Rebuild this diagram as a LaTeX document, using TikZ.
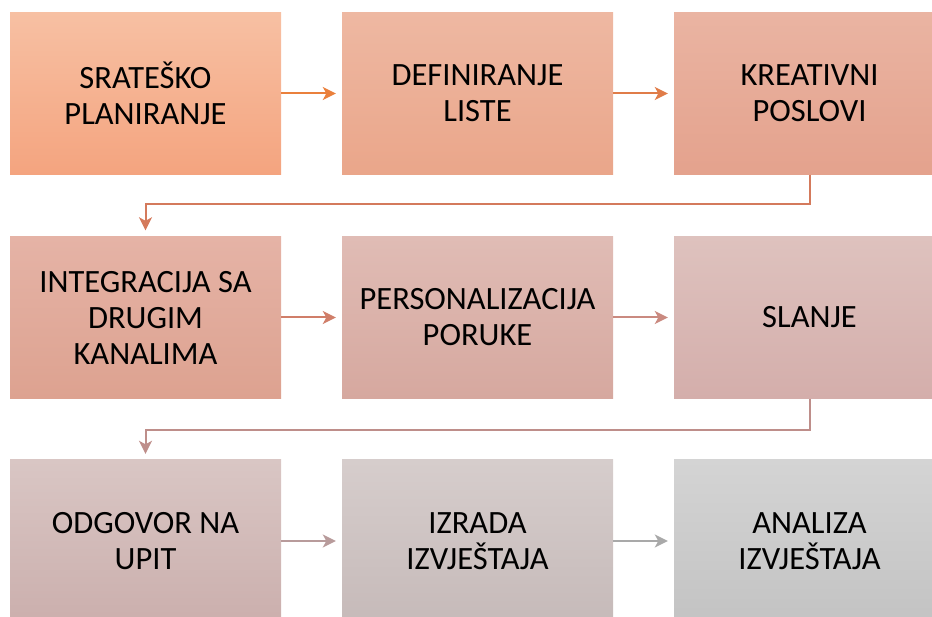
\documentclass[tikz,border=0pt]{standalone}
\usepackage{fontspec}
\setmainfont{Carlito}
\usetikzlibrary{arrows.meta}
\definecolor{aT}{HTML}{F7C0A3}\definecolor{aB}{HTML}{F4A47F}
\definecolor{bT}{HTML}{EEB8A2}\definecolor{bB}{HTML}{EAA68A}
\definecolor{cT}{HTML}{EAB4A2}\definecolor{cB}{HTML}{E4A28D}
\definecolor{dT}{HTML}{E5B3A6}\definecolor{dB}{HTML}{DDA290}
\definecolor{eT}{HTML}{E0BCB5}\definecolor{eB}{HTML}{D6A89F}
\definecolor{fT}{HTML}{DEC2BE}\definecolor{fB}{HTML}{D4AEAB}
\definecolor{gT}{HTML}{D9C6C4}\definecolor{gB}{HTML}{CBAFAD}
\definecolor{hT}{HTML}{D6CDCC}\definecolor{hB}{HTML}{C6BAB9}
\definecolor{iT}{HTML}{D4D4D4}\definecolor{iB}{HTML}{C3C3C3}
\definecolor{arA}{HTML}{EA803C}\definecolor{arB}{HTML}{E07C48}
\definecolor{arC}{HTML}{D47A5C}\definecolor{arD}{HTML}{D07E69}
\definecolor{arE}{HTML}{CA8A80}\definecolor{arF}{HTML}{BE8E8A}
\definecolor{arG}{HTML}{B89B9B}\definecolor{arH}{HTML}{A9A9A9}
\newcommand{\boxfont}{\fontsize{32.5pt}{36pt}\selectfont}
\tikzset{
  x=1pt,y=-1pt,
  stepbox/.style={minimum width=271pt,minimum height=162pt,inner sep=0pt,
    align=center,font=\boxfont},
  conn/.style={line width=2pt,-{Stealth[length=13pt,width=13pt,inset=3.5pt]},shorten >=6pt},
}
\begin{document}
\begin{tikzpicture}
\useasboundingbox (0,0) rectangle (932,617);
\node[stepbox,top color=aT,bottom color=aB] (n1) at (145.5,93.5) {SRATEŠKO\\PLANIRANJE};
\node[stepbox,top color=bT,bottom color=bB] (n2) at (477.5,93.5) {DEFINIRANJE\\LISTE};
\node[stepbox,top color=cT,bottom color=cB] (n3) at (809.5,93.5) {KREATIVNI\\POSLOVI};
\node[stepbox,top color=dT,bottom color=dB] (n4) at (145.5,317.5) {INTEGRACIJA SA\\DRUGIM\\KANALIMA};
\node[stepbox,top color=eT,bottom color=eB] (n5) at (477.5,317.5) {PERSONALIZACIJA\\PORUKE};
\node[stepbox,top color=fT,bottom color=fB] (n6) at (809.5,317.5) {SLANJE};
\node[stepbox,top color=gT,bottom color=gB] (n7) at (145.5,541) {ODGOVOR NA\\UPIT};
\node[stepbox,top color=hT,bottom color=hB] (n8) at (477.5,541) {IZRADA\\IZVJEŠTAJA};
\node[stepbox,top color=iT,bottom color=iB] (n9) at (809.5,541) {ANALIZA\\IZVJEŠTAJA};
\draw[conn,arA] (n1) -- (n2);
\draw[conn,arB] (n2) -- (n3);
\draw[conn,arC] (n3.south) -- ++(0,29) -| (n4.north);
\draw[conn,arD] (n4) -- (n5);
\draw[conn,arE] (n5) -- (n6);
\draw[conn,arF] (n6.south) -- ++(0,31) -| (n7.north);
\draw[conn,arG] (n7) -- (n8);
\draw[conn,arH] (n8) -- (n9);
\end{tikzpicture}
\end{document}
